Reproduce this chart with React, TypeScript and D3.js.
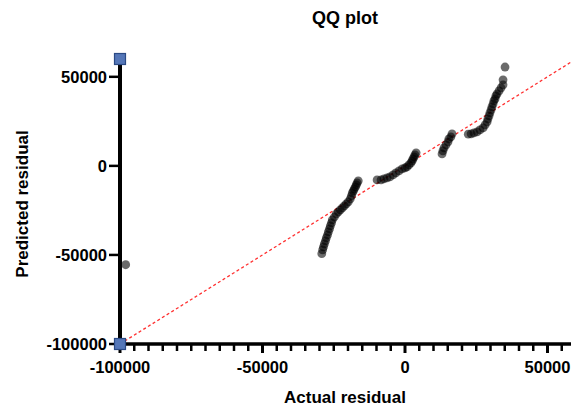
import * as d3 from 'd3';
import { useEffect, useRef } from 'react';

// QQ plot data: actual residual (x) vs predicted residual (y)
const actual = [
  -98000,
  -29200, -28900, -28600, -28300, -27900, -27600, -27200, -26900, -26500, -26200,
  -25800, -25500, -24800, -24100, -23400, -22700, -22000, -21300, -20600, -19900,
  -19200, -18800, -18500, -18100, -17800, -17400, -17100, -16800, -16400,
  -9800, -8400, -7400, -6300, -5300, -4200, -3200, -2100, -1000, 0,
  700, 1400, 2100, 2500, 2800, 3200, 3500, 3900,
  13000, 13300, 13700, 14400, 15100, 15400, 16100, 16500,
  22200, 23200, 24200, 25300, 26300, 27400, 28100, 28800, 29100, 29500,
  29800, 30200, 30500, 30900, 31200, 31600, 31900, 32300, 33000, 33700,
  34400, 34400, 35100,
];
const predicted = [
  -55500,
  -49300, -47200, -45500, -43800, -42100, -40400, -38800, -37100, -35400, -33700,
  -32000, -30300, -28700, -27000, -25800, -24700, -23600, -22500, -21300, -20200,
  -18500, -16900, -15200, -14000, -12900, -11800, -10700, -9600, -8400,
  -7900, -7900, -7300, -6700, -6200, -5100, -3900, -2800, -1700, -1100,
  -600, 600, 1700, 2800, 3900, 5100, 6200, 7300,
  6700, 8400, 10100, 11800, 13500, 15200, 16300, 18000,
  17800, 18000, 18500, 19100, 20200, 21300, 23000, 24700, 26400, 28100,
  29800, 31500, 33100, 34800, 36500, 37600, 39300, 40400, 42100, 43800,
  45500, 48300, 55500,
];

const xDomain = [-100000, 60000];
const yDomain = [-100000, 60000];
const xTicks = [-100000, -50000, 0, 50000];
const yTicks = [-100000, -50000, 0, 50000];

const W = 571;
const H = 408;
const FONT = '"Liberation Sans", Arial, sans-serif';

const App = () => {
  const ref = useRef(null);

  useEffect(() => {
    const svg = d3.select(ref.current);
    svg.selectAll('*').remove();

    const x = d3.scaleLinear().domain(xDomain).range([120, 576]);
    const y = d3.scaleLinear().domain(yDomain).range([344, 59]);

    // title
    svg.append('text')
      .attr('x', 345).attr('y', 24)
      .attr('text-anchor', 'middle')
      .style('font-family', FONT).style('font-weight', 'bold').style('font-size', '18px')
      .text('QQ plot');

    // identity line
    svg.append('line')
      .attr('x1', x(-100000)).attr('y1', y(-100000))
      .attr('x2', x(60000)).attr('y2', y(60000))
      .attr('stroke', '#ff3030').attr('stroke-width', 1.3)
      .attr('stroke-dasharray', '3,2.5');

    // points
    svg.append('g').selectAll('circle')
      .data(actual.map((a, i) => [a, predicted[i]]))
      .enter()
      .append('circle')
      .attr('cx', (d) => x(d[0]))
      .attr('cy', (d) => y(d[1]))
      .attr('r', 4.4)
      .attr('fill', '#000')
      .attr('fill-opacity', 0.58);

    // x axis
    const xMinor = d3.range(-100000, 60001, 5000);
    const gx = svg.append('g').attr('transform', `translate(0,${y(-100000)})`);
    gx.append('line')
      .attr('x1', x(-100000) - 2).attr('x2', x(60000))
      .attr('stroke', '#000').attr('stroke-width', 3.5);
    gx.selectAll('.minor').data(xMinor).enter().append('line')
      .attr('x1', (d) => x(d)).attr('x2', (d) => x(d))
      .attr('y1', 0).attr('y2', (d) => (xTicks.includes(d) ? 9 : 7))
      .attr('stroke', '#000').attr('stroke-width', (d) => (xTicks.includes(d) ? 3 : 2.5));
    gx.selectAll('.lbl').data(xTicks).enter().append('text')
      .attr('x', (d) => x(d)).attr('y', 29)
      .attr('text-anchor', 'middle')
      .style('font-family', FONT).style('font-weight', 'bold').style('font-size', '16.5px')
      .text((d) => d);

    svg.append('text')
      .attr('x', 345).attr('y', 403)
      .attr('text-anchor', 'middle')
      .style('font-family', FONT).style('font-weight', 'bold').style('font-size', '17px')
      .text('Actual residual');

    // y axis
    const gy = svg.append('g').attr('transform', `translate(${x(-100000)},0)`);
    gy.append('line')
      .attr('y1', y(60000)).attr('y2', y(-100000) + 2)
      .attr('stroke', '#000').attr('stroke-width', 4);
    gy.selectAll('.tk').data(yTicks).enter().append('line')
      .attr('x1', -11).attr('x2', 0)
      .attr('y1', (d) => y(d)).attr('y2', (d) => y(d))
      .attr('stroke', '#000').attr('stroke-width', 2.5);
    gy.selectAll('.lbl').data(yTicks).enter().append('text')
      .attr('x', -13).attr('y', (d) => y(d) + 6)
      .attr('text-anchor', 'end')
      .style('font-family', FONT).style('font-weight', 'bold').style('font-size', '16.5px')
      .text((d) => d);

    svg.append('text')
      .attr('transform', 'translate(28,204) rotate(-90)')
      .attr('text-anchor', 'middle')
      .style('font-family', FONT).style('font-weight', 'bold').style('font-size', '17px')
      .text('Predicted residual');

    // axis end markers
    const ends = [[-100000, 60000], [-100000, -100000]];
    svg.selectAll('.end').data(ends).enter().append('rect')
      .attr('x', (d) => x(d[0]) - 5.5).attr('y', (d) => y(d[1]) - 5.5)
      .attr('width', 11).attr('height', 11)
      .attr('fill', '#5577b8').attr('stroke', '#2b4a85').attr('stroke-width', 1.2);
  }, []);

  return (
    <svg ref={ref} width={W} height={H}
      style={{ position: 'absolute', left: 0, top: 0, background: '#fff' }} />
  );
};

export default App;
